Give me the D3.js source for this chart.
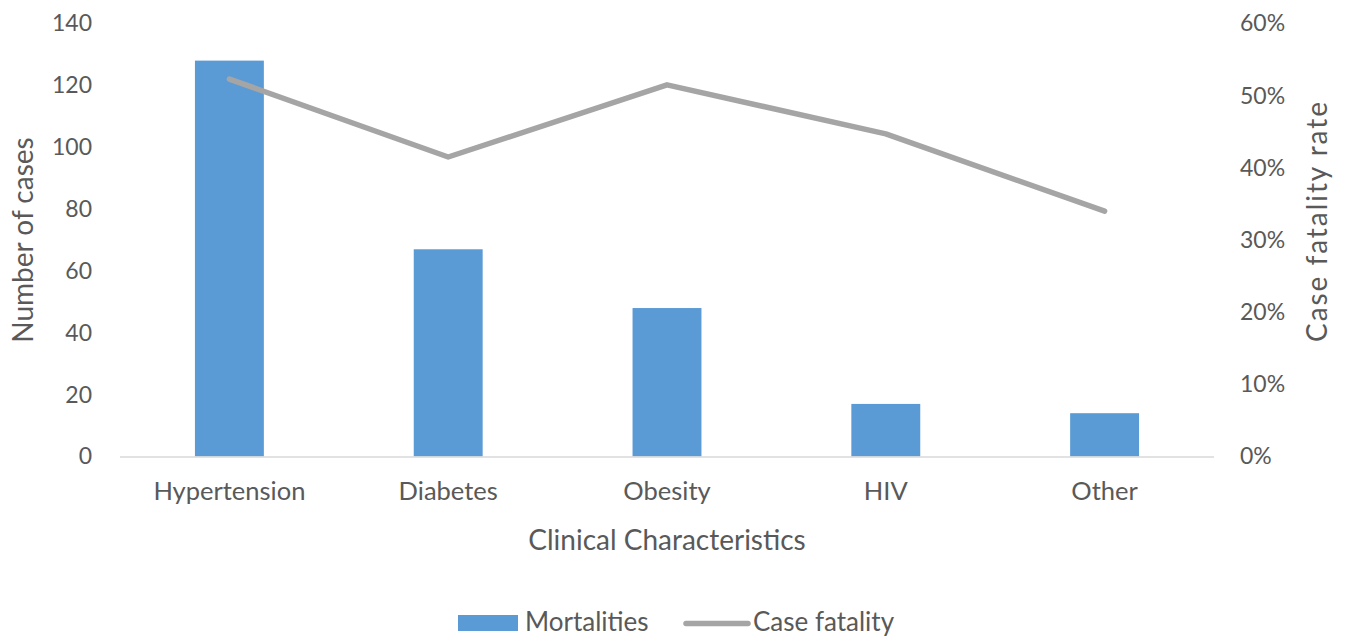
<!DOCTYPE html>
<html>
<head>
<meta charset="utf-8">
<script src="https://cdn.jsdelivr.net/npm/d3@7"></script>
<style>
  html, body { margin: 0; padding: 0; background: #fff; }
  svg text { font-family: Lato, "Open Sans", sans-serif; fill: #595959; }
</style>
</head>
<body>
<svg id="chart" width="1349" height="639"></svg>
<script>
// Clinical characteristics: deaths (bars, left axis) and case fatality rate (line, right axis)
const categories = ["Hypertension", "Diabetes", "Obesity", "HIV", "Other"];
const mortalities = [128, 67, 48, 17, 14];
const caseFatality = [0.523, 0.415, 0.515, 0.447, 0.340];
const leftTicks = [0, 20, 40, 60, 80, 100, 120, 140];
const rightTicks = [0, 0.1, 0.2, 0.3, 0.4, 0.5, 0.6];

const svg = d3.select("#chart");
const plot = { left: 120, right: 1214, top: 23.5, bottom: 456.5 };
const tickFont = 23;
const labelFont = 25.5;
const titleFont = 28;

const x = d3.scaleBand().domain(categories).range([plot.left, plot.right]).paddingInner(0.685).paddingOuter(0.3425);
const yL = d3.scaleLinear().domain([0, 140]).range([plot.bottom, plot.top]);
const yR = d3.scaleLinear().domain([0, 0.6]).range([plot.bottom, plot.top]);

// bars
svg.append("g").selectAll("rect").data(categories).join("rect")
  .attr("x", d => x(d))
  .attr("width", x.bandwidth())
  .attr("y", (d, i) => yL(mortalities[i]))
  .attr("height", (d, i) => yL(0) - yL(mortalities[i]))
  .attr("fill", "#5B9BD5");

// category axis line
svg.append("line")
  .attr("x1", plot.left).attr("x2", plot.right)
  .attr("y1", plot.bottom + 0.5).attr("y2", plot.bottom + 0.5)
  .attr("stroke", "#D9D9D9").attr("stroke-width", 1.5);

// case fatality line
const line = d3.line()
  .x((d, i) => x(categories[i]) + x.bandwidth() / 2)
  .y(d => yR(d));
svg.append("path").datum(caseFatality)
  .attr("d", line)
  .attr("fill", "none")
  .attr("stroke", "#A5A5A5")
  .attr("stroke-width", 5.5)
  .attr("stroke-linecap", "round")
  .attr("stroke-linejoin", "round");

// left axis
const axL = svg.append("g").attr("transform", `translate(${plot.left - 28},0)`)
  .call(d3.axisLeft(yL).tickValues(leftTicks).tickSize(0).tickPadding(0));
axL.select(".domain").remove();
axL.selectAll("text").style("font-size", tickFont + "px").attr("font-family", null).attr("fill", "#595959");

// right axis
const axR = svg.append("g").attr("transform", `translate(${plot.right + 26},0)`)
  .call(d3.axisRight(yR).tickValues(rightTicks).tickFormat(d3.format(".0%")).tickSize(0).tickPadding(0));
axR.select(".domain").remove();
axR.selectAll("text").style("font-size", tickFont + "px").attr("font-family", null).attr("fill", "#595959");

// bottom axis labels
const axB = svg.append("g").attr("transform", `translate(0,${plot.bottom})`)
  .call(d3.axisBottom(x).tickSize(0).tickPadding(25));
axB.select(".domain").remove();
axB.selectAll("text").style("font-size", labelFont + "px").attr("font-family", null).attr("fill", "#595959");

// axis titles
svg.append("text")
  .attr("transform", `translate(33,240) rotate(-90)`)
  .attr("text-anchor", "middle")
  .style("font-size", titleFont + "px")
  .text("Number of cases");
svg.append("text")
  .attr("transform", `translate(1327,222) rotate(-90)`)
  .attr("text-anchor", "middle")
  .attr("textLength", 240)
  .attr("lengthAdjust", "spacing")
  .style("font-size", titleFont + "px")
  .text("Case fatality rate");
svg.append("text")
  .attr("x", (plot.left + plot.right) / 2)
  .attr("y", 550)
  .attr("text-anchor", "middle")
  .style("font-size", titleFont + "px")
  .text("Clinical Characteristics");

// legend
const lg = svg.append("g");
lg.append("rect").attr("x", 458).attr("y", 615).attr("width", 60).attr("height", 16).attr("fill", "#5B9BD5");
lg.append("text").attr("x", 525).attr("y", 631).style("font-size", "26px").text("Mortalities");
lg.append("line").attr("x1", 686).attr("x2", 748).attr("y1", 623.5).attr("y2", 623.5)
  .attr("stroke", "#A5A5A5").attr("stroke-width", 5.5).attr("stroke-linecap", "round");
lg.append("text").attr("x", 753).attr("y", 631).style("font-size", "26px").text("Case fatality");
</script>
</body>
</html>
